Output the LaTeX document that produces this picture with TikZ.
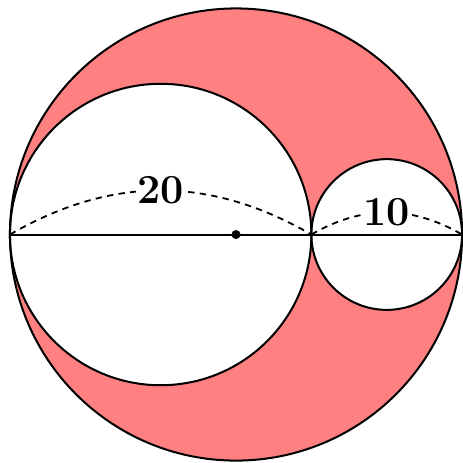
\documentclass[tikz,border=0pt]{standalone}
\begin{document}
\begin{tikzpicture}[x=0.5cm,y=0.5cm,
  outline/.style={draw=black,line width=1.9pt},
  dimarc/.style={dashed,dash pattern=on 6pt off 5pt,line width=1.7pt},
  dimlabel/.style={fill=white,inner sep=1.5pt,font=\fontsize{39}{41}\selectfont\bfseries}]
\useasboundingbox (-15.66,-15.16) rectangle (15.06,15.56);
\coordinate (L) at (-15,0);
\coordinate (M) at (5,0);
\coordinate (R) at (15,0);
\coordinate (O) at (0,0);
\fill[red!50] (O) circle (15);
\fill[white] (-5,0) circle (10);
\fill[white] (10,0) circle (5);
\draw[outline] (O) circle (15);
\draw[outline] (-5,0) circle (10);
\draw[outline] (10,0) circle (5);
\draw[line width=1.9pt] (L) -- (R);
\draw[dimarc] (L) to[bend left=30] node[dimlabel,pos=0.5] {20} (M);
\draw[dimarc] (M) to[bend left=30] node[dimlabel,pos=0.5] {10} (R);
\fill (O) circle (0.3);
\end{tikzpicture}
\end{document}
